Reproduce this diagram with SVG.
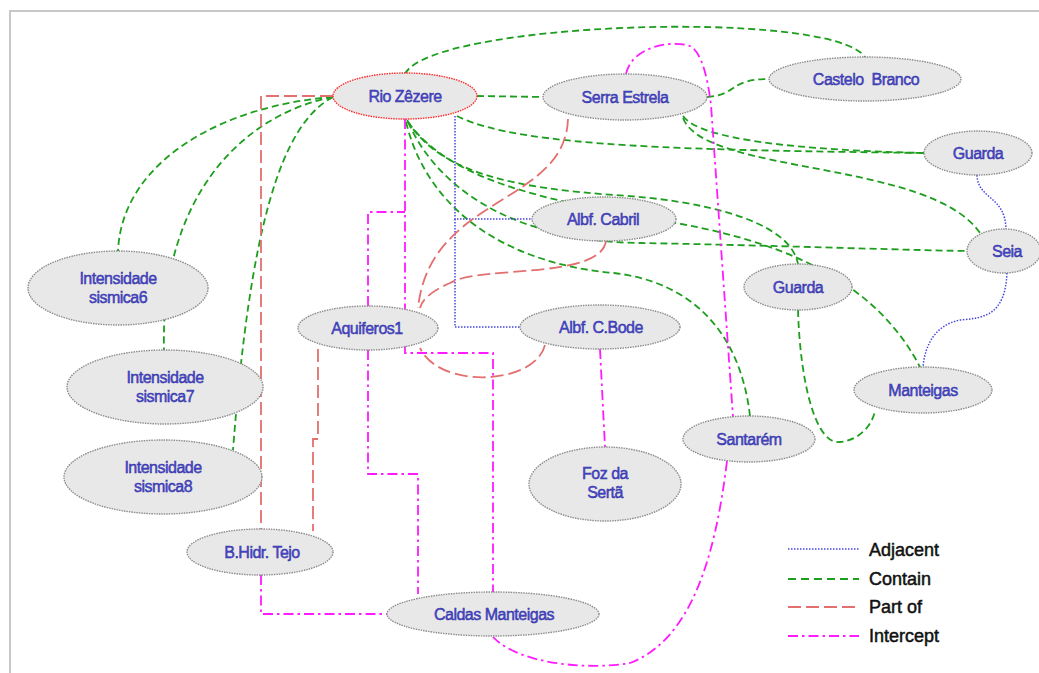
<svg xmlns="http://www.w3.org/2000/svg" width="1039" height="673" viewBox="0 0 1039 673">
  <style>
    .frame { fill: none; stroke: #c8c8c8; stroke-width: 2; }
    .adj { fill: none; stroke: #4545dd; stroke-width: 1.5; stroke-dasharray: 1.5 1.5; }
    .con { fill: none; stroke: #1e9e1e; stroke-width: 1.8; stroke-dasharray: 7 4; }
    .part { fill: none; stroke: #e36f6f; stroke-width: 1.8; stroke-dasharray: 13 5; }
    .int { fill: none; stroke: #ff1aff; stroke-width: 1.8; stroke-dasharray: 10 4 2.5 4; }
    .node ellipse { fill: #e8e8e8; stroke: #8c8c8c; stroke-width: 1.4; stroke-dasharray: 1.5 1; }
    .node.main ellipse { stroke: #ff2b2b; }
    .node text { font-family: "Liberation Sans", Arial, sans-serif; font-size: 16px; letter-spacing: -0.5px; fill: #4848d8; stroke: #2e2e96; stroke-width: 0.45; text-anchor: middle; }
    .legend text { font-family: "Liberation Sans", Arial, sans-serif; font-size: 18px; fill: #111; stroke: #111; stroke-width: 0.5; }
  </style>

  <!-- page frame -->
  <path class="frame" d="M10,673 V11 H1039"/>

  <g id="connectors">
    <!-- Contain -->
    <path class="con" d="M405,74 C430,22 830,8 865,57"/>
    <path class="con" d="M477,96 L543,97"/>
    <path class="con" d="M707,97 C740,94 728,79 770,79"/>
    <path class="con" d="M333,97 C225,105 122,160 118,251"/>
    <path class="con" d="M333,97 C240,115 160,200 164,350"/>
    <path class="con" d="M333,97 C280,125 250,230 233,450"/>
    <path class="con" d="M457,116 C520,148 700,150 924,153"/>
    <path class="con" d="M683,116 C700,140 800,150 924,153"/>
    <path class="con" d="M683,118 C705,175 930,160 980,233"/>
    <path class="con" d="M407,120 C440,175 520,188 614,195 C700,200 790,220 798,264"/>
    <path class="con" d="M408,122 C445,205 540,242 640,243 C760,245 900,250 967,251"/>
    <path class="con" d="M408,122 C450,180 540,200 676,223 C800,245 880,290 920,367"/>
    <path class="con" d="M406,122 C430,220 520,265 614,273 C690,282 740,330 750,416"/>
    <path class="con" d="M798,310 C800,380 815,445 840,442 C860,440 872,425 875,411"/>

    <!-- Adjacent -->
    <path class="adj" d="M455,116 V219 H532"/>
    <path class="adj" d="M455,219 V327 H521"/>
    <path class="adj" d="M977,175 C978,200 1005,195 1006,229"/>
    <path class="adj" d="M1007,273 C1005,315 985,318 960,320 C935,325 925,345 923,367"/>

    <!-- Part of -->
    <path class="part" d="M333,96 H261 V529"/>
    <path class="part" d="M318,349 V439 H313 V531"/>
    <path class="part" d="M568,119 C565,205 430,195 418,308"/>
    <path class="part" d="M606,241 C600,280 480,265 450,283 C430,292 422,300 420,308"/>
    <path class="part" d="M545,345 C535,385 440,390 420,348"/>

    <!-- Intercept -->
    <path class="int" d="M626,74 C632,46 672,40 690,46 C702,52 708,80 711,105 L733,417"/>
    <path class="int" d="M727,461 C715,560 690,640 630,663 C590,670 520,665 493,637"/>
    <path class="int" d="M405,119 V353 H493 V592"/>
    <path class="int" d="M368,306 V212 H405"/>
    <path class="int" d="M368,350 V474 H418 V594"/>
    <path class="int" d="M261,575 V614 H387"/>
    <path class="int" d="M600,349 L605,447"/>
  </g>

  <g id="node-rio-zezere" class="node main">
    <ellipse cx="405" cy="96" rx="72" ry="23"/>
    <text x="405" y="102">Rio Zêzere</text>
  </g>
  <g id="node-serra-estrela" class="node">
    <ellipse cx="625" cy="97" rx="82" ry="23"/>
    <text x="625" y="103">Serra Estrela</text>
  </g>
  <g id="node-castelo-branco" class="node">
    <ellipse cx="865" cy="79" rx="96" ry="22"/>
    <text x="866" y="85" style="white-space:pre">Castelo  Branco</text>
  </g>
  <g id="node-guarda-1" class="node">
    <ellipse cx="978" cy="153" rx="54" ry="22"/>
    <text x="978" y="159">Guarda</text>
  </g>
  <g id="node-seia" class="node">
    <ellipse cx="1004" cy="251" rx="37" ry="22"/>
    <text x="1007" y="257">Seia</text>
  </g>
  <g id="node-albf-cabril" class="node">
    <ellipse cx="604" cy="219" rx="72" ry="22"/>
    <text x="603" y="225">Albf. Cabril</text>
  </g>
  <g id="node-guarda-2" class="node">
    <ellipse cx="798" cy="287" rx="54" ry="23"/>
    <text x="798" y="293">Guarda</text>
  </g>
  <g id="node-aquiferos1" class="node">
    <ellipse cx="368" cy="328" rx="70" ry="22"/>
    <text x="367" y="334">Aquiferos1</text>
  </g>
  <g id="node-albf-cbode" class="node">
    <ellipse cx="600" cy="327" rx="80" ry="22"/>
    <text x="601" y="333">Albf. C.Bode</text>
  </g>
  <g id="node-intensidade-6" class="node">
    <ellipse cx="118" cy="288" rx="90" ry="37"/>
    <text x="118" y="284">Intensidade</text>
    <text x="118" y="303">sismica6</text>
  </g>
  <g id="node-intensidade-7" class="node">
    <ellipse cx="165" cy="387" rx="98" ry="37"/>
    <text x="165" y="383">Intensidade</text>
    <text x="165" y="402">sismica7</text>
  </g>
  <g id="node-intensidade-8" class="node">
    <ellipse cx="163" cy="477" rx="99" ry="37"/>
    <text x="163" y="473">Intensidade</text>
    <text x="163" y="492">sismica8</text>
  </g>
  <g id="node-manteigas" class="node">
    <ellipse cx="923" cy="390" rx="69" ry="23"/>
    <text x="923" y="396">Manteigas</text>
  </g>
  <g id="node-santarem" class="node">
    <ellipse cx="749" cy="439" rx="66" ry="23"/>
    <text x="749" y="445">Santarém</text>
  </g>
  <g id="node-foz-serta" class="node">
    <ellipse cx="605" cy="484" rx="76" ry="37"/>
    <text x="605" y="479">Foz da</text>
    <text x="605" y="498">Sertã</text>
  </g>
  <g id="node-bhidr-tejo" class="node">
    <ellipse cx="260" cy="552" rx="73" ry="23"/>
    <text x="262" y="558">B.Hidr. Tejo</text>
  </g>
  <g id="node-caldas-manteigas" class="node">
    <ellipse cx="493" cy="614" rx="106" ry="22"/>
    <text x="494" y="620">Caldas Manteigas</text>
  </g>

  <g id="legend" class="legend">
    <path class="adj" d="M788,549 H859"/>
    <path class="con" d="M788,579 H859" style="stroke-dasharray:8 5"/>
    <path class="part" d="M788,607 H859"/>
    <path class="int" d="M788,636 H859"/>
    <text x="869" y="556">Adjacent</text>
    <text x="869" y="585">Contain</text>
    <text x="869" y="613">Part of</text>
    <text x="869" y="642">Intercept</text>
  </g>
</svg>
